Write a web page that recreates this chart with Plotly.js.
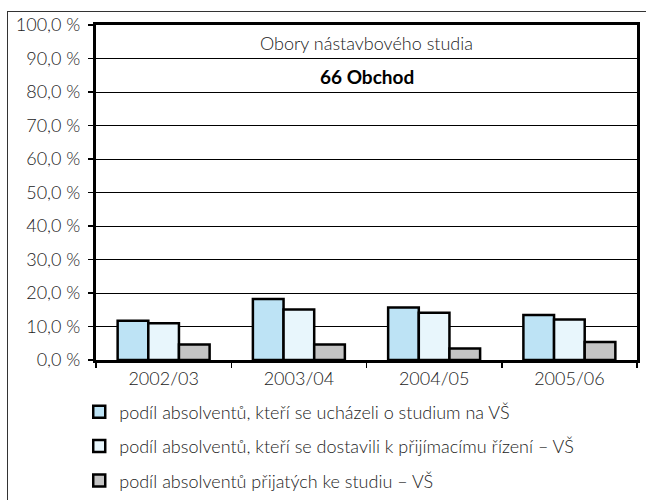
<!DOCTYPE html>
<html>
<head>
<meta charset="utf-8">
<script src="https://cdn.plot.ly/plotly-3.0.1.min.js"></script>
<style>
  html, body { margin: 0; padding: 0; background: #fff; }
  #wrap { position: relative; width: 646px; height: 500px; overflow: hidden; }
  #chart { width: 646px; height: 500px; }
  #frame { position: absolute; left: 7px; top: 11px; width: 660px; height: 520px; border: 1px solid #333; pointer-events: none; }
</style>
</head>
<body>
<div id="wrap">
  <div id="chart"></div>
  <div id="frame"></div>
</div>
<script>
const categories = ["2002/03", "2003/04", "2004/05", "2005/06"];
const seriesNames = [
  "podíl absolventů, kteří se ucházeli o studium na VŠ",
  "podíl absolventů, kteří se dostavili k přijímacímu řízení – VŠ",
  "podíl absolventů přijatých ke studiu – VŠ"
];
const applied = [11.7, 18.2, 15.7, 13.4];
const attended = [11.0, 15.1, 14.1, 12.1];
const admitted = [4.6, 4.6, 3.4, 5.4];
const seriesColors = ["#BDE3F5", "#E8F6FC", "#C4C4C4"];
const titleLine1 = "Obory nástavbového studia";
const titleLine2 = "66 Obchod";

const FONT = "Lato, 'DejaVu Sans', sans-serif";
const values = [applied, attended, admitted];
const traces = values.map((v, i) => ({
  type: "bar",
  x: categories,
  y: v,
  name: seriesNames[i],
  legendgroup: "g" + i,
  marker: { color: seriesColors[i], line: { color: "#000", width: 2.5 } },
  hoverinfo: "skip"
}));

const layout = {
  width: 646, height: 500,
  margin: { l: 96, r: 9, t: 25, b: 140, autoexpand: false },
  paper_bgcolor: "rgba(0,0,0,0)",
  plot_bgcolor: "#fff",
  separators: ", ",
  barmode: "group",
  bargap: 0.32,
  bargroupgap: 0,
  font: { family: FONT, color: "#222", size: 18, weight: 300 },
  xaxis: {
    type: "category", automargin: false,
    showline: true, linecolor: "#000", linewidth: 3, mirror: true,
    ticks: "outside", tickson: "boundaries", ticklen: 5, tickwidth: 1.5, tickcolor: "#000",
    tickfont: { family: FONT, size: 18, color: "#222", weight: 300 },
    showgrid: false
  },
  yaxis: {
    range: [0, 100], dtick: 10, tick0: 0, automargin: false,
    tickformat: ".1f", ticksuffix: " %",
    showline: true, linecolor: "#000", linewidth: 3, mirror: true,
    ticks: "outside", ticklen: 5, tickwidth: 1.5, tickcolor: "#000",
    ticklabelstandoff: 4,
    gridcolor: "#000", gridwidth: 1,
    zeroline: false,
    tickfont: { family: FONT, size: 18, color: "#222", weight: 300 }
  },
  showlegend: true,
  legend: {
    orientation: "v",
    x: -0.031, xanchor: "left",
    y: -0.1, yanchor: "top",
    traceorder: "grouped",
    tracegroupgap: 8,
    font: { family: FONT, size: 18, color: "#222", weight: 300 },
    bgcolor: "rgba(0,0,0,0)"
  },
  annotations: [
    { xref: "paper", yref: "paper", x: 0.5, y: 0.946, yanchor: "middle", text: titleLine1, showarrow: false,
      font: { family: FONT, size: 18, color: "#222", weight: 300 } },
    { xref: "paper", yref: "paper", x: 0.5, y: 0.845, yanchor: "middle", text: "<b>" + titleLine2 + "</b>", showarrow: false,
      font: { family: FONT, size: 19, color: "#000" } }
  ]
};

Plotly.newPlot("chart", traces, layout, { displayModeBar: false, staticPlot: true });
</script>
</body>
</html>
